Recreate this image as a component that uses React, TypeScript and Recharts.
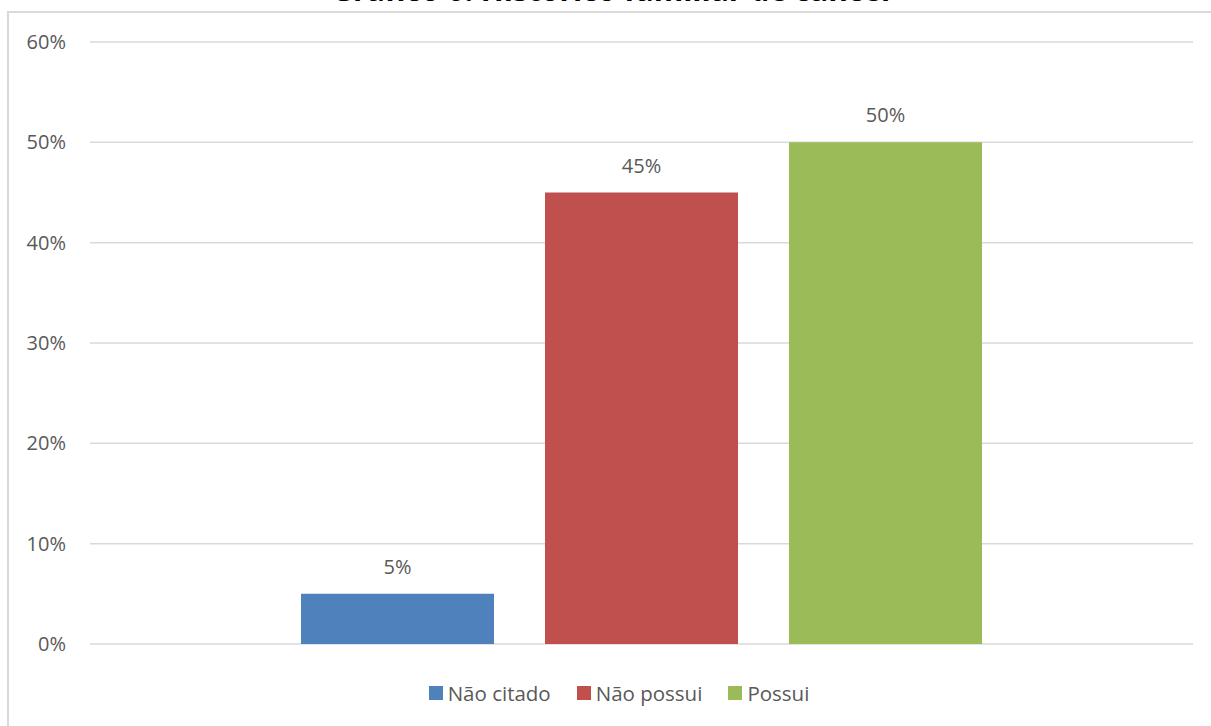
import React from "react";
import { BarChart, Bar, XAxis, YAxis, CartesianGrid, Legend, LabelList } from "recharts";

const categories = [""];
const seriesNames = ["Não citado", "Não possui", "Possui"];
const seriesKeys = ["naoCitado", "naoPossui", "possui"];
const seriesValues = [[5], [45], [50]];
const seriesColors = ["#4F81BD", "#C0504D", "#9BBB59"];
const yTicks = [0, 10, 20, 30, 40, 50, 60];
const title = "Gráfico 6: Histórico familiar de câncer";

const data = categories.map((c, i) => {
  const row: Record<string, any> = { name: c };
  seriesKeys.forEach((k, s) => {
    row[k] = seriesValues[s][i];
  });
  return row;
});

const FONT = "'Open Sans', 'Noto Sans', sans-serif";
const TXT = "#595959";

const LegendContent = (props: any) => {
  const payload = props.payload || [];
  return (
    <div style={{ display: "flex", justifyContent: "center", alignItems: "center", fontFamily: FONT, fontSize: 20.5, color: TXT, height: 26, paddingLeft: 27 }}>
      {payload.map((p: any, i: number) => (
        <div key={i} style={{ display: "flex", alignItems: "center", marginLeft: i === 0 ? 0 : 26 }}>
          <div style={{ width: 14, height: 14, background: p.color, marginRight: 5 }} />
          <span>{p.value}</span>
        </div>
      ))}
    </div>
  );
};

export default function App() {
  return (
    <div style={{ position: "fixed", left: 0, top: 0, width: 1211, height: 726, overflow: "hidden", background: "#fff" }}>
      <div style={{ position: "absolute", left: 7, top: 11, width: 1300, height: 800, borderTop: "2px solid #d9d9d9", borderLeft: "2px solid #d9d9d9" }} />
      <div
        style={{
          position: "absolute",
          left: 0,
          width: 1226,
          top: -30,
          height: 40,
          lineHeight: "40px",
          textAlign: "center",
          fontFamily: FONT,
          fontWeight: "bold",
          fontSize: 30,
          color: "#000",
          whiteSpace: "nowrap",
        }}
      >
        {title}
      </div>
      <div style={{ position: "absolute", left: 0, top: 0 }}>
        <BarChart
          width={1211}
          height={726}
          data={data}
          margin={{ top: 42, right: 18, left: 0, bottom: 56 }}
          barGap={51}
          barSize={193}
        >
          <CartesianGrid vertical={false} stroke="#d9d9d9" strokeWidth={1.5} />
          <XAxis dataKey="name" hide />
          <YAxis
            width={90}
            domain={[0, 60]}
            ticks={yTicks}
            tickFormatter={(v: number) => `${v}%`}
            axisLine={false}
            tickLine={false}
            tickSize={0}
            tickMargin={24}
            tick={{ fill: TXT, fontSize: 20, fontFamily: FONT }}
          />
          <Legend
            verticalAlign="bottom"
            content={<LegendContent />}
            wrapperStyle={{ position: "absolute", top: 680, left: 0, width: 1211, height: 26, bottom: "auto" }}
          />
          {seriesKeys.map((k, s) => (
            <Bar key={k} dataKey={k} name={seriesNames[s]} fill={seriesColors[s]} isAnimationActive={false}>
              <LabelList
                dataKey={k}
                position="top"
                offset={20}
                formatter={(v: any) => `${v}%`}
                style={{ fill: TXT, fontSize: 20, fontFamily: FONT }}
              />
            </Bar>
          ))}
        </BarChart>
      </div>
    </div>
  );
}
